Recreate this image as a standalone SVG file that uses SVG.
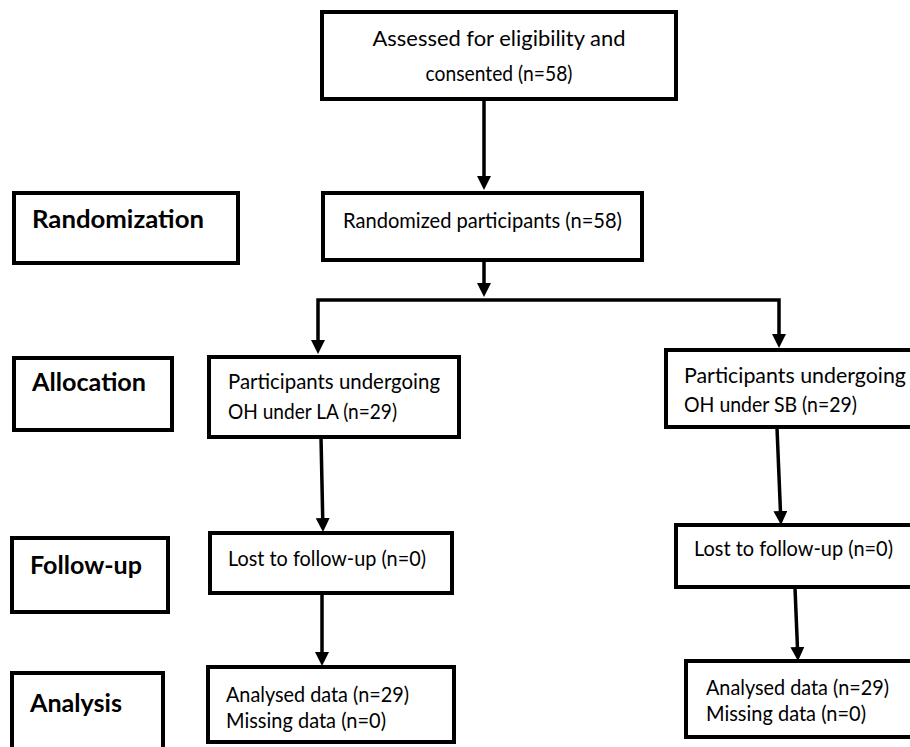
<svg xmlns="http://www.w3.org/2000/svg" width="910" height="747" viewBox="0 0 910 747">
<style>
.box{fill:#fff;stroke:#000;stroke-width:4}
.t{font-family:Lato,"Open Sans","Liberation Sans",sans-serif;font-size:20.5px;fill:#000}
.b{font-family:Lato,"Open Sans","Liberation Sans",sans-serif;font-size:25px;font-weight:bold;fill:#000}
.c{fill:none;stroke:#000;stroke-width:3.5}
</style>
<defs>
<marker id="ah" markerUnits="userSpaceOnUse" viewBox="0 0 14 14" refX="4" refY="7" markerWidth="14" markerHeight="14" orient="auto">
<path d="M0,0 L14,7 L0,14 z" fill="#000"/>
</marker>
</defs>
<rect width="910" height="747" fill="#fff"/>
<g id="connectors">
<path class="c" d="M484,100 V180" marker-end="url(#ah)"/>
<path class="c" d="M484,247 V287" marker-end="url(#ah)"/>
<path class="c" d="M484,300 H318 V344" marker-end="url(#ah)"/>
<path class="c" d="M484,300 H779 V338" marker-end="url(#ah)"/>
<path class="c" d="M321,437 L322.8,522" marker-end="url(#ah)"/>
<path class="c" d="M322,594 V656" marker-end="url(#ah)"/>
<path class="c" d="M777,428 L780.6,515" marker-end="url(#ah)"/>
<path class="c" d="M795,588 L797.6,651" marker-end="url(#ah)"/>
</g>
<g id="assessed">
<rect class="box" x="322" y="12" width="354" height="87"/>
<text class="t" x="499" y="46" text-anchor="middle" textLength="253" lengthAdjust="spacingAndGlyphs">Assessed for eligibility and</text>
<text class="t" x="499" y="81" text-anchor="middle" textLength="147" lengthAdjust="spacingAndGlyphs">consented (n=58)</text>
</g>
<g id="lbl-randomization">
<rect class="box" x="14" y="193" width="224" height="70"/>
<text class="b" x="32" y="228" textLength="172" lengthAdjust="spacingAndGlyphs">Randomization</text>
</g>
<g id="randomized">
<rect class="box" x="323" y="193" width="319" height="67"/>
<text class="t" x="343" y="228" textLength="279" lengthAdjust="spacingAndGlyphs">Randomized participants (n=58)</text>
</g>
<g id="lbl-allocation">
<rect class="box" x="14" y="358" width="158" height="72"/>
<text class="b" x="32" y="391" textLength="114" lengthAdjust="spacingAndGlyphs">Allocation</text>
</g>
<g id="alloc-la">
<rect class="box" x="209" y="357" width="250" height="80"/>
<text class="t" x="228" y="389" textLength="212" lengthAdjust="spacingAndGlyphs">Participants undergoing</text>
<text class="t" x="228" y="419" textLength="169" lengthAdjust="spacingAndGlyphs">OH under LA (n=29)</text>
</g>
<g id="alloc-sb">
<rect class="box" x="666" y="350" width="260" height="77"/>
<text class="t" x="684" y="383" textLength="222" lengthAdjust="spacingAndGlyphs">Participants undergoing</text>
<text class="t" x="684" y="412" textLength="173" lengthAdjust="spacingAndGlyphs">OH under SB (n=29)</text>
</g>
<g id="lbl-followup">
<rect class="box" x="12" y="538" width="156" height="74"/>
<text class="b" x="30" y="574" textLength="112" lengthAdjust="spacingAndGlyphs">Follow-up</text>
</g>
<g id="lost-la">
<rect class="box" x="210" y="533" width="242" height="60"/>
<text class="t" x="228" y="566" textLength="198" lengthAdjust="spacingAndGlyphs">Lost to follow-up (n=0)</text>
</g>
<g id="lost-sb">
<rect class="box" x="676" y="525" width="250" height="62"/>
<text class="t" x="694" y="556" textLength="199" lengthAdjust="spacingAndGlyphs">Lost to follow-up (n=0)</text>
</g>
<g id="lbl-analysis">
<rect class="box" x="12" y="673" width="151" height="90"/>
<text class="b" x="30" y="712" textLength="92" lengthAdjust="spacingAndGlyphs">Analysis</text>
</g>
<g id="analysed-la">
<rect class="box" x="208" y="667" width="246" height="75"/>
<text class="t" x="226" y="702" textLength="183" lengthAdjust="spacingAndGlyphs">Analysed data (n=29)</text>
<text class="t" x="226" y="728" textLength="160" lengthAdjust="spacingAndGlyphs">Missing data (n=0)</text>
</g>
<g id="analysed-sb">
<rect class="box" x="686" y="661" width="240" height="76"/>
<text class="t" x="706" y="695" textLength="183" lengthAdjust="spacingAndGlyphs">Analysed data (n=29)</text>
<text class="t" x="706" y="721" textLength="160" lengthAdjust="spacingAndGlyphs">Missing data (n=0)</text>
</g>
</svg>
